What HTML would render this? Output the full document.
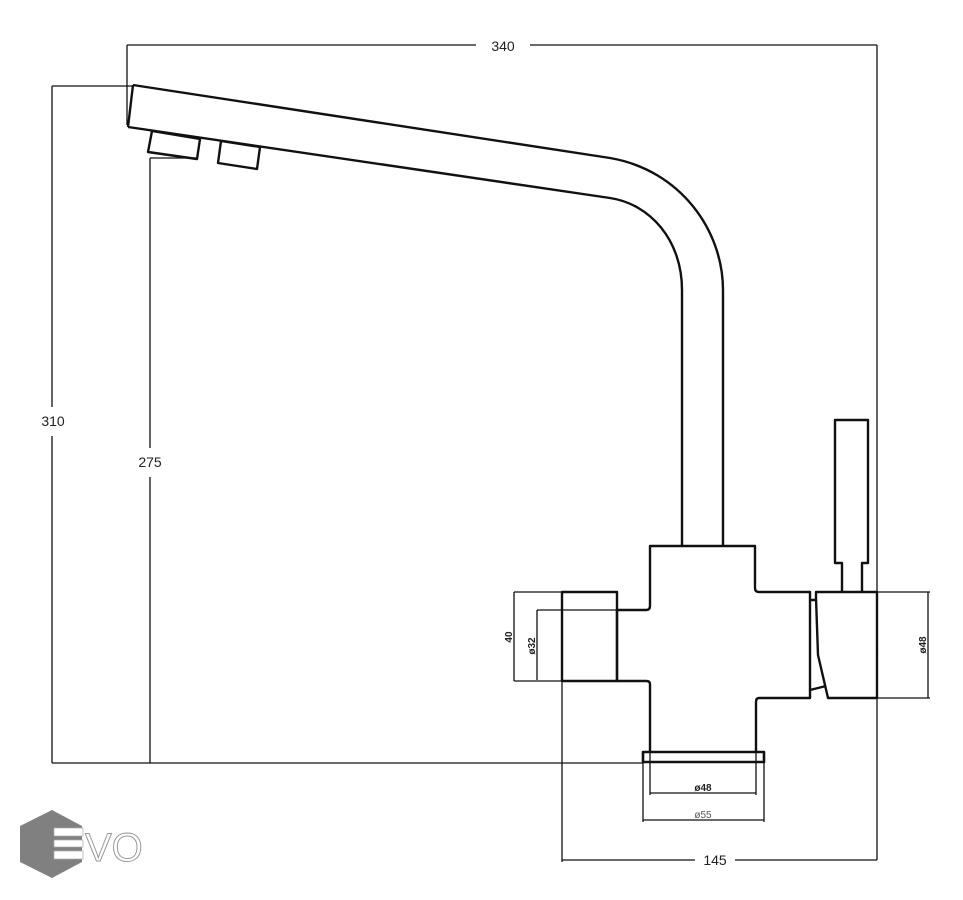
<!DOCTYPE html>
<html><head><style>html,body{margin:0;padding:0;background:#fff}svg{display:block}</style></head>
<body>
<svg width="963" height="900" viewBox="0 0 963 900" xmlns="http://www.w3.org/2000/svg" font-family="Liberation Sans, sans-serif">
<g fill="none" stroke="#111" stroke-width="1.3">
<line x1="127" y1="45" x2="476" y2="45"/><line x1="530" y1="45" x2="877" y2="45"/>
<line x1="127" y1="45" x2="127" y2="125"/>
<line x1="877" y1="45" x2="877" y2="860"/>
<line x1="52" y1="86" x2="133" y2="86"/>
<line x1="52" y1="86" x2="52" y2="407"/><line x1="52" y1="436" x2="52" y2="763"/>
<line x1="52" y1="763" x2="643" y2="763"/>
<line x1="150" y1="158" x2="196" y2="158"/>
<line x1="150" y1="158" x2="150" y2="448"/><line x1="150" y1="477" x2="150" y2="763"/>
<line x1="562" y1="592" x2="562" y2="862"/>
<line x1="562" y1="860" x2="695" y2="860"/><line x1="735" y1="860" x2="877" y2="860"/>
<line x1="514" y1="592" x2="562" y2="592"/><line x1="514" y1="681" x2="562" y2="681"/>
<line x1="514" y1="592" x2="514" y2="681"/>
<line x1="537" y1="610" x2="616" y2="610"/><line x1="537" y1="610" x2="537" y2="680"/>
<line x1="877" y1="592" x2="930" y2="592"/><line x1="877" y1="698" x2="930" y2="698"/>
<line x1="928" y1="592" x2="928" y2="698"/>
<line x1="650" y1="752" x2="650" y2="795"/><line x1="756" y1="752" x2="756" y2="795"/>
<line x1="650" y1="793" x2="756" y2="793"/>
<line x1="643" y1="762" x2="643" y2="822"/><line x1="764" y1="762" x2="764" y2="822"/>
<line x1="643" y1="820" x2="764" y2="820"/>
</g>
<g fill="none" stroke="#111" stroke-width="2.4" stroke-linejoin="round">
<path d="M133,85 L610,158 C680,170 723,230 723,290 L723,546"/>
<path d="M128,127 L610,198 C650,204 682,240 682,290 L682,546"/>
<line x1="133" y1="85" x2="128" y2="127"/>
<polygon points="152,131 200,139 197,159 148,152"/>
<polygon points="221,141 260,147 257,169 218,163"/>
<path d="M650,752 L650,684 Q650,681 646,681 L617,681 L617,610 L646,610 Q650,610 650,606 L650,546 L755,546 L755,588 Q755,592 759,592 L810,592 L810,698 L759,698 Q756,698 756,702 L756,752"/>
<rect x="562" y="592" width="55" height="89"/>
<rect x="643" y="752" width="121" height="10" stroke-width="2.6"/>
<path d="M816,592 L877,592 L877,698 L828,698 L818,655 L816,598 Z"/>
<path d="M810,600 L816,600 M810,690 L826,686"/>
<path d="M842,592 L842,563 L835,563 L835,420 L868,420 L868,563 L862,563 L862,592"/>
</g>
<g font-size="14" fill="#222" text-anchor="middle">
<text x="503" y="51">340</text>
<text x="53" y="426">310</text>
<text x="150" y="467">275</text>
<text x="715" y="865">145</text>
</g>
<g font-size="10" fill="#222" text-anchor="middle" font-weight="bold">
<text x="703" y="791">ø48</text>
<text x="703" y="818" font-weight="normal" fill="#555">ø55</text>
<text transform="translate(512,637) rotate(-90)">40</text>
<text transform="translate(535,646) rotate(-90)">ø32</text>
<text transform="translate(926,645) rotate(-90)">ø48</text>
</g>
<polygon points="52,810 82,826 82,862 52,878 20,862 20,826" fill="#808080"/>
<rect x="54" y="828" width="29" height="8" fill="#fff" stroke="#aaa" stroke-width="0.7"/>
<rect x="54" y="840" width="29" height="7" fill="#fff" stroke="#aaa" stroke-width="0.7"/>
<rect x="54" y="851" width="29" height="8" fill="#fff" stroke="#aaa" stroke-width="0.7"/>
<text x="85" y="861" font-size="40" fill="#fff" stroke="#999" stroke-width="1">VO</text>
</svg>
</body></html>
